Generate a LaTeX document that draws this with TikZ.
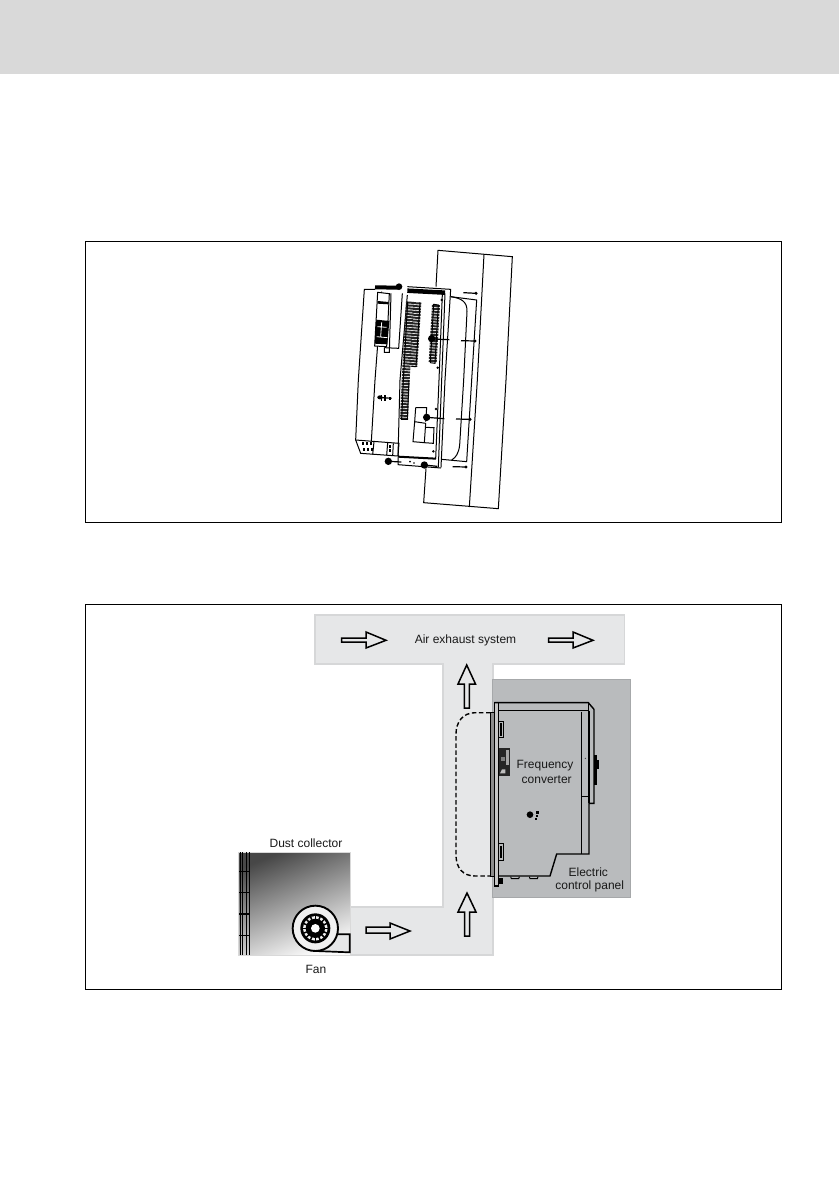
\documentclass[tikz,border=0pt]{standalone}
\usepackage{fontspec}
\setmainfont{Liberation Sans}
\definecolor{band}{HTML}{D9D9D9}
\definecolor{duct}{HTML}{E6E7E8}
\definecolor{ductedge}{HTML}{D6D7D8}
\definecolor{panelgray}{HTML}{B9BBBD}
\definecolor{paneledge}{HTML}{A6A8AA}
\tikzset{
  frameA/.style={draw=black,line width=0.8pt},
  lbl/.style={font=\fontsize{12}{13}\selectfont,text=black!90,inner sep=0pt},
  flow/.style={draw=black,line width=1.5pt,fill=duct,line join=miter},
  ln/.style={line width=1pt},
  lnb/.style={line width=1.2pt},
  vent/.style={line width=8pt,dash pattern=on 2pt off 0.9pt,black!85},
  dotb/.style={fill=black,draw=none}
}
\begin{document}
\begin{tikzpicture}[x=1pt,y=-1pt]
\useasboundingbox (0,0) rectangle (839,1191);
\fill[white] (0,0) rectangle (839,1191);
\fill[band] (0,0) rectangle (839,74);
\draw[frameA] (85,241) rectangle (781,522);
\draw[frameA] (85,604) rectangle (781,989);

% ---------- top figure: upper part (zoom 1 coordinates)
\begin{scope}[shift={(330,245)},scale=1/3]
  \draw[ln] (318,125) -- (324,16) -- (547,35) -- (528,405);
  \draw[ln] (462,28) -- (442,405);
  % cut-out
  \draw[ln] (362,155) .. controls (395,160) and (412,170) .. (411,200) -- (401,405);
  \draw[ln] (362,155) -- (440,165) -- (425,405);
  % left body
  \draw[ln] (135,133) -- (103,133) -- (85,405);
  \draw[ln] (155,140) -- (135,405);
  \draw[ln] (217,145) -- (206,310) -- (163,308);
  \draw[ln] (183,145) -- (178,322) -- (163,322) -- (163,308);
  % plate
  \draw[ln] (232,125) -- (362,133) -- (345,405);
  \draw[ln] (345,145) -- (335,405);
  \draw[ln] (337,148) -- (327,405);
  \draw[ln] (232,150) -- (210,405);
  \draw[line width=4pt] (135,127) -- (205,128);
  \draw[line width=4.5pt] (232,137) -- (345,143);
  \fill[dotb] (207,125) circle (10);
  % display
  \draw[ln,fill=white] (143,142) -- (178,146) -- (170,305) -- (134,303) -- cycle;
  \fill[dotb] (143,168) -- (176,171) -- (176,178) -- (143,176) -- cycle;
  \fill[dotb] (139,224) -- (178,228) -- (172,298) -- (134,296) -- cycle;
  \draw[white,line width=0.8pt] (142,245) -- (170,247) (155,232) -- (152,275) (140,275) -- (172,278);
  % vent strips
  \draw[vent] (240,170) -- (227,405);
  \draw[vent] (262,172) -- (250,365);
  \draw[vent] (318,180) -- (308,353);
  \draw[ln] (233,170) -- (220,405) (270,172) -- (258,365) -- (244,364) (311,178) -- (325,180) -- (315,355) -- (301,353) -- cycle;
  % fasteners
  \fill[dotb] (305,281) circle (11);
  \draw[lnb] (305,282) -- (358,284);
  \draw[lnb] (393,287) -- (435,288);
  \fill[dotb] (435,288) circle (5);
  \draw[lnb] (400,143) -- (438,145);
  \fill[dotb] (438,145) circle (5);
  \fill[dotb] (335,165) circle (4);
  \fill[dotb] (323,368) circle (4);
\end{scope}

% ---------- top figure: lower part (zoom 2 coordinates)
\begin{scope}[shift={(330,380)},scale=1/3]
  \draw[ln] (288,265) -- (281,368) -- (505,386) -- (528,0);
  \draw[ln] (442,0) -- (418,381);
  \draw[ln] (401,0) -- (389,195) .. controls (386,220) and (378,232) .. (365,240);
  \draw[ln] (425,0) -- (410,245) -- (335,238);
  % body
  \draw[ln] (85,0) -- (77,180) -- (92,220) -- (204,228);
  \draw[ln] (135,0) -- (124,184);
  \draw[ln] (77,180) -- (207,190) -- (204,228);
  \draw[ln] (132,185) -- (128,224);
  \draw[ln] (173,188) -- (170,226) (190,190) -- (188,227);
  \foreach \a in {96,108,121}{
    \fill[dotb] (\a,187) rectangle ++(6,8);
    \fill[dotb] (\a+2,204) rectangle ++(6,8);
  }
  \fill[dotb] (176,195) rectangle ++(8,8);
  \fill[dotb] (176,208) rectangle ++(8,8);
  % plate
  \draw[ln] (345,0) -- (333,262);
  \draw[ln] (335,0) -- (325,262);
  \draw[ln] (327,0) -- (317,236);
  \draw[ln] (210,0) -- (204,228);
  \draw[line width=2pt] (204,230) -- (318,236);
  \draw[ln] (204,232) -- (204,254) -- (333,264);
  \fill[dotb] (240,245) circle (3) (252,249) circle (2.5);
  % vents
  \draw[vent] (227,0) -- (222,118);
  \draw[ln] (220,0) -- (215,118) -- (232,118) -- (237,0);
  % boxes
  \draw[ln] (257,83) -- (290,83) -- (287,125);
  \draw[ln] (257,83) -- (254,125);
  \draw[ln] (254,125) -- (287,130) -- (283,188) -- (249,185) -- cycle;
  \draw[ln] (287,142) -- (312,143) -- (310,190) -- (283,188);
  % fasteners
  \fill[dotb] (150,52) ellipse (8 and 6);
  \draw[lnb] (143,52) -- (185,55);
  \fill[dotb] (163,44) rectangle ++(6,20);
  \fill[dotb] (152,46) rectangle ++(5,18);
  \fill[dotb] (178,52) rectangle ++(6,7);
  \fill[dotb] (290,112) circle (11);
  \draw[lnb] (290,112) -- (343,116);
  \draw[lnb] (378,117) -- (420,118);
  \fill[dotb] (420,118) circle (5);
  \fill[dotb] (318,87) circle (4);
  \fill[dotb] (310,214) circle (4);
  \fill[dotb] (175,244) circle (11);
  \draw[lnb] (175,244) -- (214,246);
  \fill[dotb] (283,255) circle (11);
  \draw[lnb] (283,255) -- (322,259);
  \draw[lnb] (368,260) -- (408,261);
  \fill[dotb] (408,261) circle (5);
\end{scope}

% ---------- bottom figure
\draw[ductedge,line width=1.2pt,fill=duct] (315,615) -- (624.5,615) -- (624.5,664) -- (493,664) -- (493,955) -- (350,955) -- (350,907) -- (443,907) -- (443,664) -- (315,664) -- cycle;
\draw[paneledge,line width=1pt,fill=panelgray] (492,679) rectangle (630.5,897.5);

% collector (zoom 4 coordinates)
\begin{scope}[shift={(230,830)},scale=1/3]
  \shade[top color=black!72,bottom color=black!2,shading angle=22] (25,66) rectangle (360,377);
  \draw[black!15,line width=0.8pt] (25,66) rectangle (360,377);
  \foreach \a in {31,38,49,58}{\draw[line width=1.3pt] (\a,67) -- (\a,376);}
  \foreach \b in {125,188,252,316}{\draw[line width=1.3pt] (28,\b) -- (60,\b);}
  \draw[line width=1.7pt,fill=duct] (256,363) -- (359,367) -- (359,313) -- (320,313) -- cycle;
  \draw[line width=1.9pt,fill=black!6] (256,295) circle (68);
  \fill[black] (256,295) circle (45);
  \fill[black!6] (256,295) circle (37);
  \foreach \t in {0,22.5,...,337.5}{\draw[black,line width=1.5pt] (256,295) ++(\t:28) -- ++(\t:12);}
  \fill[black] (256,295) circle (29);
  \fill[white] (256,295) circle (13);
\end{scope}

% converter (zoom 3 coordinates)
\begin{scope}[shift={(440,670)},scale=1/3]
  \draw[line width=1pt,fill=black!45] (152,128) rectangle (163,618);
  \draw[line width=1.1pt,fill=black!22] (163,98) rectangle (176,648);
  \draw[line width=1.4pt] (163,98) -- (445,98) -- (462,118) -- (462,400) -- (447,400) -- (447,552) -- (350,552) -- (330,618) -- (176,618);
  \draw[line width=1.4pt] (176,122) -- (445,122) -- (445,98);
  \draw[line width=1.4pt] (424,125) -- (424,552);
  \draw[line width=1.4pt] (447,122) -- (447,400);
  \draw[line width=1.4pt] (424,380) -- (447,380);
  % side clips
  \draw[line width=1pt] (176,154) -- (190,154) -- (190,203) -- (176,203);
  \fill[black] (180,160) rectangle (186,197);
  \draw[line width=1pt] (176,520) -- (190,520) -- (190,570) -- (176,570);
  \fill[black] (180,527) rectangle (186,563);
  % module
  \fill[black!85] (176,235) rectangle (210,317);
  \fill[black!35] (198,240) rectangle (206,285);
  \fill[black!50] (182,262) rectangle (196,272);
  \fill[black!25] (186,298) -- (196,298) -- (196,310) -- (180,310) -- cycle;
  % right-hand parts
  \fill[black] (462,255) rectangle (470,345);
  \fill[black] (462,270) rectangle (478,298);
  \fill[black] (465,312) rectangle (472,332);
  \fill[black!75] (436,265) circle (2);
  % centre knob
  \fill[black] (270,434) circle (10);
  \fill[black] (287,424) rectangle (296,432);
  \fill[black] (287,434) rectangle (295,441);
  \fill[black] (285,443) rectangle (292,449);
  % bottom bits
  \fill[black] (176,625) rectangle (189,642);
  \draw[line width=1pt] (212,620) -- (214,626) -- (236,626) -- (238,620);
  \draw[line width=1pt] (268,620) -- (270,626) -- (292,626) -- (294,620);
\end{scope}

% dashed outline
\draw[line width=1.4pt,dash pattern=on 4.5pt off 2.6pt]
  (490.5,712.7) -- (475,712.7) .. controls (463,712.7) and (456,722) .. (456,734)
  -- (456,855) .. controls (456,868) and (463,876) .. (475,876) -- (490.5,876);

% flow arrows
\draw[flow] (341.7,638) -- (366,638) -- (366,632) -- (386,640.3) -- (366,648) -- (366,642) -- (341.7,642) -- cycle;
\draw[flow] (548.7,638) -- (573,638) -- (573,632) -- (593,640.3) -- (573,648) -- (573,642) -- (548.7,642) -- cycle;
\draw[flow] (366,927) -- (390,927) -- (390,923) -- (410,931) -- (390,939) -- (390,933) -- (366,933) -- cycle;
\draw[flow] (464.3,708) -- (464.3,684) -- (458,684) -- (466.7,665) -- (475.5,684) -- (469.3,684) -- (469.3,708) -- cycle;
\draw[flow] (464.5,936) -- (464.5,912) -- (458,912) -- (467,893) -- (476,912) -- (469.5,912) -- (469.5,936) -- cycle;

% labels
\node[lbl] (airlabel) at (465.5,640.3) {Air exhaust system};
\node[lbl] (dustlabel) at (306,843.3) {Dust collector};
\node[lbl] (fanlabel) at (316,969) {Fan};
\node[lbl] (freqlabel) at (545,766) {Frequency};
\node[lbl] (convlabel) at (546.7,780) {converter};
\node[lbl] (eleclabel) at (588.3,872.3) {Electric};
\node[lbl] (ctrllabel) at (589.7,886.7) {control panel};
\end{tikzpicture}
\end{document}
